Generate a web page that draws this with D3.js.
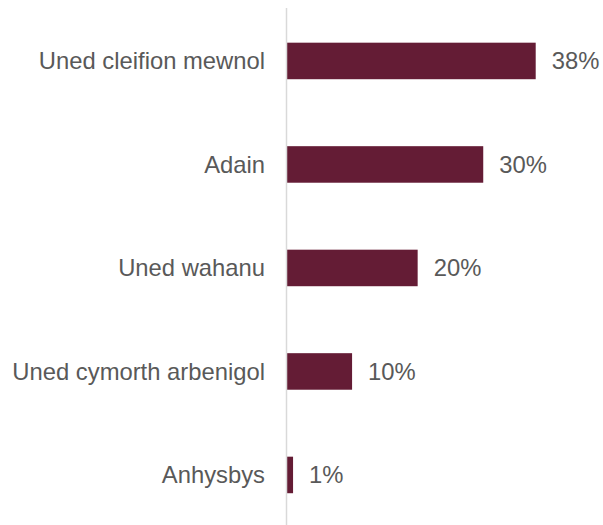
<!DOCTYPE html>
<html>
<head>
<meta charset="utf-8">
<script src="https://cdn.jsdelivr.net/npm/d3@7"></script>
<style>
  html, body { margin: 0; padding: 0; background: #ffffff; }
  svg { display: block; }
</style>
</head>
<body>
<svg id="chart" width="603" height="525"></svg>
<script>
// Categories and their shares (percent)
const categories = ["Uned cleifion mewnol", "Adain", "Uned wahanu", "Uned cymorth arbenigol", "Anhysbys"];
const values = [38, 30, 20, 10, 1];
const valueLabels = ["38%", "30%", "20%", "10%", "1%"];

const svg = d3.select("#chart");
const width = 603, height = 525;
const axisX = 286.5;

const x = d3.scaleLinear().domain([0, 38]).range([axisX, 535.7]);
const y = d3.scaleBand().domain(categories).range([9.2, 526.7]).paddingInner(0.647).paddingOuter(0.3235);

const font = "'Liberation Sans', Arial, sans-serif";
const textColor = "#595959";

// Bars
svg.append("g").selectAll("rect")
  .data(categories)
  .join("rect")
  .attr("x", axisX)
  .attr("y", d => y(d))
  .attr("width", (d, i) => x(values[i]) - axisX)
  .attr("height", y.bandwidth())
  .attr("fill", "#641c35");

// Vertical category axis line
svg.append("line")
  .attr("x1", axisX).attr("x2", axisX)
  .attr("y1", 8).attr("y2", height)
  .attr("stroke", "#d9d9d9")
  .attr("stroke-width", 1.5);

// Category labels
svg.append("g").selectAll("text")
  .data(categories)
  .join("text")
  .attr("x", 265)
  .attr("y", d => y(d) + y.bandwidth() / 2)
  .attr("dy", "0.358em")
  .attr("text-anchor", "end")
  .attr("font-family", font)
  .attr("font-size", 23.8)
  .attr("fill", textColor)
  .text(d => d);

// Value labels
svg.append("g").selectAll("text")
  .data(categories)
  .join("text")
  .attr("x", (d, i) => x(values[i]) + 16)
  .attr("y", d => y(d) + y.bandwidth() / 2)
  .attr("dy", "0.358em")
  .attr("font-family", font)
  .attr("font-size", 23.8)
  .attr("fill", textColor)
  .text((d, i) => valueLabels[i]);
</script>
</body>
</html>
